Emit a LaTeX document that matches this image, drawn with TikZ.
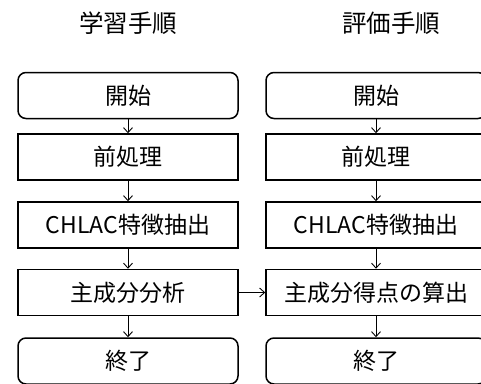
\documentclass[tikz,border=0pt]{standalone}
\usepackage{fontspec}
\setmainfont{Noto Sans CJK JP}
\usetikzlibrary{arrows.meta}
\begin{document}
\begin{tikzpicture}[x=1pt,y=1pt,
  stepbox/.style={draw=black,line width=1.5pt,minimum width=220pt,minimum height=46pt,inner sep=0pt,font=\fontsize{23}{26}\selectfont},
  termbox/.style={stepbox,rounded corners=8pt},
  ttl/.style={font=\fontsize{24.5}{28}\selectfont},
  conn/.style={line width=0.9pt,-{Straight Barb[length=5pt,width=9pt,line width=0.9pt]}}]
\useasboundingbox (0,0) rectangle (481,-383);
\node[ttl] (tl) at (128,-23) {学習手順};
\node[ttl] (tr) at (391,-23) {評価手順};
% left column
\node[termbox] (l1) at (128,-95.5) {開始};
\node[stepbox] (l2) at (128,-157) {前処理};
\node[stepbox] (l3) at (128,-225) {CHLAC特徴抽出};
\node[stepbox] (l4) at (128,-292.5) {主成分分析};
\node[termbox] (l5) at (128,-361) {終了};
% right column
\node[termbox] (r1) at (376,-95.5) {開始};
\node[stepbox] (r2) at (376,-157) {前処理};
\node[stepbox] (r3) at (376,-225) {CHLAC特徴抽出};
\node[stepbox] (r4) at (376,-292.5) {主成分得点の算出};
\node[termbox] (r5) at (376,-361) {終了};
\foreach \a/\b in {l1/l2,l2/l3,l3/l4,l4/l5,r1/r2,r2/r3,r3/r4,r4/r5}
  \draw[conn] (\a.south) -- (\b.north);
\draw[conn] (l4.east) -- (r4.west);
\end{tikzpicture}
\end{document}
